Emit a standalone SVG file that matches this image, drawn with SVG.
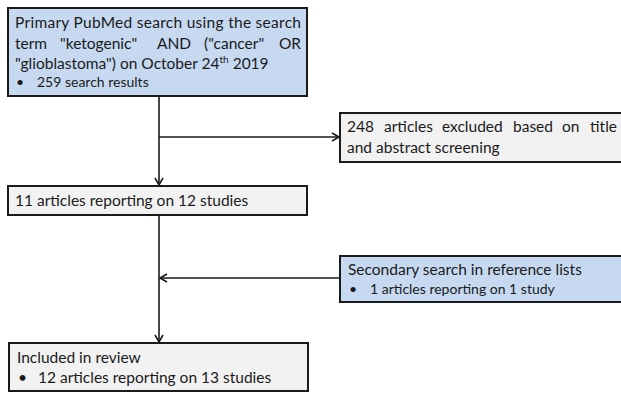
<svg xmlns="http://www.w3.org/2000/svg" width="621" height="393" viewBox="0 0 621 393">
<style>
.blue{fill:#c6d9f1;stroke:#1a1a1a;stroke-width:2}
.gray{fill:#f2f2f2;stroke:#1a1a1a;stroke-width:2}
text{font-family:Lato,"Open Sans",sans-serif;font-size:15.5px;fill:#1a1a1a}
.s{font-size:14px}
.e{text-anchor:end}
.conn{stroke:#1a1a1a;stroke-width:1.6;fill:none}
</style>
<defs>
<marker id="ah" markerWidth="10" markerHeight="10" refX="8" refY="5" orient="auto" markerUnits="userSpaceOnUse">
<path d="M1,1 L8,5 L1,9" fill="none" stroke="#1a1a1a" stroke-width="1.6"/>
</marker>
</defs>
<g id="connectors">
<path class="conn" d="M159,96 V185" marker-end="url(#ah)"/>
<path class="conn" d="M159,137 H339" marker-end="url(#ah)"/>
<path class="conn" d="M159,215 V342" marker-end="url(#ah)"/>
<path class="conn" d="M340,278 H160" marker-end="url(#ah)"/>
</g>
<g id="primary">
<rect class="blue" x="8" y="8" width="299" height="88"/>
<text x="15" y="28" textLength="286" lengthAdjust="spacing">Primary PubMed search using the search</text>
<text x="15" y="49">term</text>
<text x="60" y="49">"ketogenic"</text>
<text x="157" y="49">AND</text>
<text x="204" y="49">("cancer"</text>
<text class="e" x="301" y="49">OR</text>
<text x="15" y="69">"glioblastoma") on October 24<tspan font-size="10" dy="-6">th</tspan><tspan dy="6"> 2019</tspan></text>
<text class="s" x="16" y="87">•</text>
<text class="s" x="37" y="87">259 search results</text>
</g>
<g id="excluded">
<rect class="gray" x="340" y="113" width="285" height="49"/>
<text x="347" y="132">248</text>
<text x="384" y="132">articles</text>
<text x="442" y="132">excluded</text>
<text x="513" y="132">based</text>
<text x="562" y="132">on</text>
<text class="e" x="617" y="132">title</text>
<text x="347" y="153">and abstract screening</text>
</g>
<g id="articles11">
<rect class="gray" x="8" y="186" width="299" height="29"/>
<text x="15" y="206">11 articles reporting on 12 studies</text>
</g>
<g id="secondary">
<rect class="blue" x="340" y="256" width="285" height="46"/>
<text x="348" y="275">Secondary search in reference lists</text>
<text class="s" x="349" y="294">•</text>
<text class="s" x="370" y="294">1 articles reporting on 1 study</text>
</g>
<g id="included">
<rect class="gray" x="9" y="343" width="299" height="48"/>
<text x="17" y="363">Included in review</text>
<text x="18" y="383">•</text>
<text x="38" y="383">12 articles reporting on 13 studies</text>
</g>
</svg>
